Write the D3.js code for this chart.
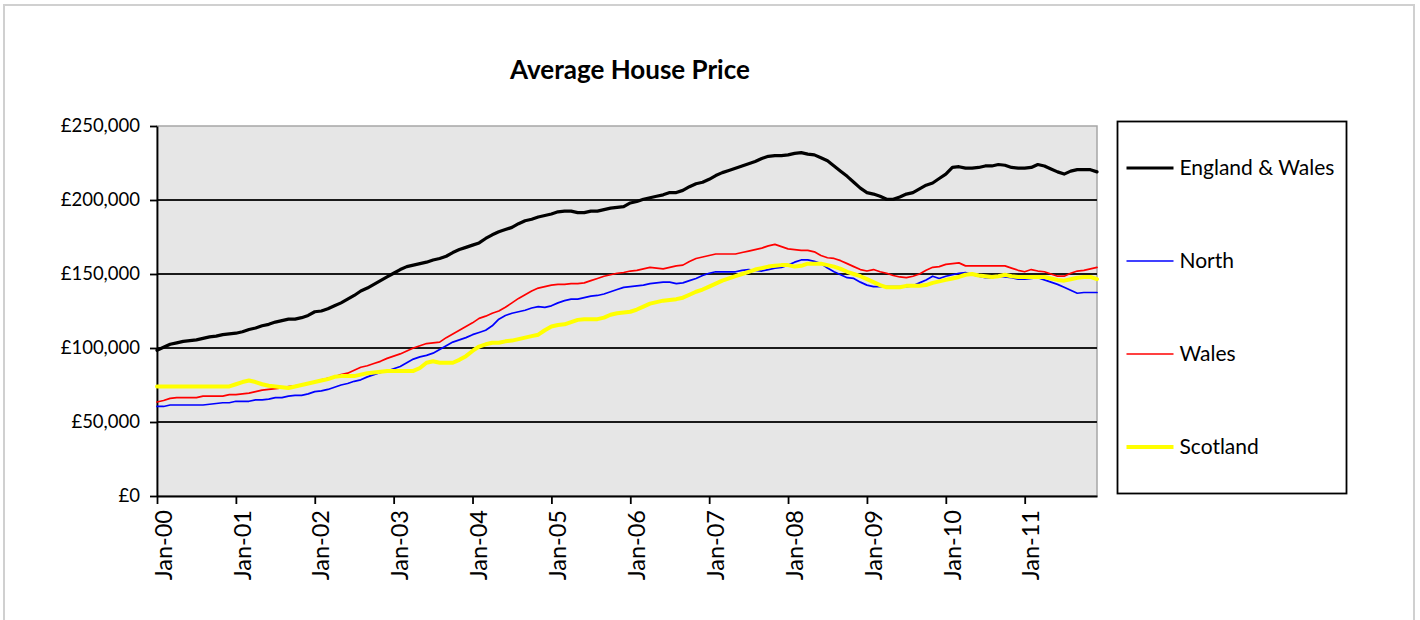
<!DOCTYPE html>
<html>
<head>
<meta charset="utf-8">
<script src="https://cdnjs.cloudflare.com/ajax/libs/d3/7.8.5/d3.min.js"></script>
<style>
  body { margin: 0; background: #fff; }
  text { font-family: Lato, "Open Sans", sans-serif; fill: #000; }
  .title { font-size: 26px; font-weight: bold; }
  .axis path, .axis line { stroke: #000; stroke-width: 1.8; }
  .axis--y text { font-size: 18.5px; }
  .axis--x text { font-size: 23.5px; }
  .legend text { font-size: 21px; }
  .series { fill: none; stroke-linejoin: round; stroke-linecap: round; }
</style>
</head>
<body>
<div id="chart"></div>
<script>

/* tick labels for the date axis, one per January */
var tickLabels = ["Jan-00", "Jan-01", "Jan-02", "Jan-03", "Jan-04", "Jan-05",
                  "Jan-06", "Jan-07", "Jan-08", "Jan-09", "Jan-10", "Jan-11"];

var yTicks = [0, 50, 100, 150, 200, 250];

/* monthly averages in £000s, Jan-00 .. Dec-11 */
var englandWales = [
  98.5, 100.5, 102.5, 103.5, 104.5, 105, 105.5, 106.5, 107.5, 108, 109, 109.5,
  110, 111, 112.5, 113.5, 115, 116, 117.5, 118.5, 119.5, 119.5, 120.5, 122,
  124.5, 125, 126.5, 128.5, 130.5, 133, 135.5, 138.5, 140.5, 143, 145.5, 148,
  150.5, 153, 155, 156, 157, 158, 159.5, 160.5, 162, 164.5, 166.5, 168,
  169.5, 171, 174, 176.5, 178.5, 180, 181.5, 184, 186, 187, 188.5, 189.5,
  190.5, 192, 192.5, 192.5, 191.5, 191.5, 192.5, 192.5, 193.5, 194.5, 195, 195.5,
  198, 199, 200.5, 201.5, 202.5, 203.5, 205, 205, 206.5, 209, 211, 212,
  214, 216.5, 218.5, 220, 221.5, 223, 224.5, 226, 228, 229.5, 230, 230,
  230.5, 231.5, 232, 231, 230.5, 228.5, 226.5, 223, 219.5, 216, 212, 208,
  205, 204, 202.5, 200.5, 200.5, 202, 204, 205, 207.5, 210, 211.5, 214.5,
  217.5, 222, 222.5, 221.5, 221.5, 222, 223, 223, 224, 223.5, 222, 221.5,
  221.5, 222, 224, 223, 221, 219, 217.5, 219.5, 220.5, 220.5, 220.5, 219
];

var north = [
  60.5, 60.5, 61.5, 61.5, 61.5, 61.5, 61.5, 61.5, 62, 62.5, 63, 63,
  64, 64, 64, 65, 65, 65.5, 66.5, 66.5, 67.5, 68, 68, 69,
  70.5, 71, 72, 73.5, 75, 76, 77.5, 78.5, 80.5, 82, 83.5, 84.5,
  86, 87.5, 90, 92.5, 94, 95, 96.5, 99, 101.5, 104, 105.5, 107,
  109, 110.5, 112, 115, 119.5, 122, 123.5, 124.5, 125.5, 127, 128, 127.5,
  128.5, 130.5, 132, 133, 133, 134, 135, 135.5, 136.5, 138, 139.5, 141,
  141.5, 142, 142.5, 143.5, 144, 144.5, 144.5, 143.5, 144, 145.5, 147, 149,
  150.5, 151.5, 151.5, 151.5, 151.5, 152.5, 153, 152.5, 152, 153, 154, 154.5,
  156, 158, 159.5, 159.5, 158.5, 157, 154, 151.5, 149.5, 147.5, 147, 144.5,
  142.5, 141.5, 141.5, 141.5, 141.5, 141.5, 141.5, 142, 144, 146, 148.5, 147,
  148.5, 149.5, 150.5, 151, 149.5, 148.5, 147.5, 147.5, 148.5, 148, 147.5, 146.5,
  146.5, 147, 147.5, 146, 144.5, 143, 141, 139, 137, 137.5, 137.5, 137.5
];

var wales = [
  63.5, 64.5, 66, 66.5, 66.5, 66.5, 66.5, 67.5, 67.5, 67.5, 67.5, 68.5,
  68.5, 69, 69.5, 70.5, 71.5, 72, 72.5, 73, 74, 74.5, 75, 76,
  77, 78.5, 79.5, 80.5, 82, 83, 85, 87, 88, 89.5, 91, 93,
  94.5, 96, 98, 100, 101.5, 103, 103.5, 104, 107, 109.5, 112, 114.5,
  117, 120, 121.5, 123.5, 125, 127.5, 130.5, 133.5, 136, 138.5, 140.5, 141.5,
  142.5, 143, 143, 143.5, 143.5, 144, 145.5, 147, 148.5, 149.5, 150.5, 151,
  152, 152.5, 153.5, 154.5, 154, 153.5, 154.5, 155.5, 156, 158.5, 160.5, 161.5,
  162.5, 163.5, 163.5, 163.5, 163.5, 164.5, 165.5, 166.5, 167.5, 169, 170, 168.5,
  167, 166.5, 166, 166, 165, 162.5, 161, 160.5, 159, 157, 155, 153,
  152, 153, 151.5, 150.5, 149, 148, 147.5, 148.5, 150, 152.5, 154.5, 155,
  156.5, 157, 157.5, 155.5, 155.5, 155.5, 155.5, 155.5, 155.5, 155.5, 154, 152.5,
  151.5, 153, 152, 151.5, 150, 148.5, 148.5, 150.5, 152, 152.5, 153.5, 154.5
];

var scotland = [
  74, 74, 74, 74, 74, 74, 74, 74, 74, 74, 74, 74,
  75.5, 77, 78, 77, 75.5, 74.5, 74, 73.5, 73, 74, 75, 76,
  77, 78, 79, 80.5, 81, 81, 81, 82, 83, 83.5, 84, 84.5,
  84.5, 84.5, 84.5, 84.5, 86.5, 90, 91, 90, 90, 90, 92, 94.5,
  98, 101, 102.5, 103.5, 103.5, 104.5, 105, 106, 107, 108, 109, 112,
  114.5, 115.5, 116, 117.5, 119, 119.5, 119.5, 119.5, 120.5, 122.5, 123.5, 124,
  124.5, 126, 128, 130, 131, 132, 132.5, 133, 134, 136, 138, 139.5,
  141.5, 143.5, 145.5, 147, 148.5, 150, 151.5, 153, 154, 155, 155.5, 156,
  156, 155, 155.5, 157, 157, 157, 156, 155, 153.5, 151.5, 150, 148.5,
  146.5, 144.5, 142.5, 141, 141, 141, 142, 142, 142, 142.5, 144, 145,
  146, 147, 148, 149.5, 150, 149, 148.5, 148, 148.5, 149.5, 148.5, 148,
  148, 148, 148, 148, 147, 146, 145.5, 146.5, 147.5, 148, 148, 146.5
];

var seriesNames = ["England & Wales", "North", "Wales", "Scotland"];
var seriesColors = ["#000000", "#0000ff", "#ff0000", "#ffff00"];
var seriesWidths = [3.2, 1.7, 1.7, 4];

var series = [englandWales, north, wales, scotland].map(function(values, i) {
  return {name: seriesNames[i], values: values, color: seriesColors[i], width: seriesWidths[i]};
});

var margin = {left: 157, top: 126},
    width = 940,
    height = 370;

var svg = d3.select("#chart").append("svg")
    .attr("width", 1420)
    .attr("height", 620);

/* chart area frame */
svg.append("rect")
    .attr("x", 4)
    .attr("y", 5)
    .attr("width", 1410)
    .attr("height", 640)
    .attr("fill", "#fff")
    .attr("stroke", "#d0d0d0")
    .attr("stroke-width", 2);

svg.append("text")
    .attr("class", "title")
    .attr("x", 630)
    .attr("y", 79)
    .attr("text-anchor", "middle")
    .text("Average House Price");

var g = svg.append("g")
    .attr("transform", "translate(" + margin.left + "," + margin.top + ")");

var x = d3.scaleLinear().domain([0, englandWales.length - 1]).range([0, width]),
    y = d3.scaleLinear().domain([0, 250]).range([height, 0]);

g.append("rect")
    .attr("width", width)
    .attr("height", height)
    .attr("fill", "#e6e6e6")
    .attr("stroke", "#a6a6a6")
    .attr("stroke-width", 1.5);

/* horizontal gridlines */
g.append("g")
    .attr("class", "grid")
  .selectAll("line")
  .data(yTicks.slice(1, -1))
  .enter().append("line")
    .attr("x1", 0)
    .attr("x2", width)
    .attr("y1", function(d) { return y(d); })
    .attr("y2", function(d) { return y(d); })
    .attr("stroke", "#1a1a1a")
    .attr("stroke-width", 1.8);

var yAxis = d3.axisLeft(y)
    .tickValues(yTicks)
    .tickSize(7)
    .tickSizeOuter(0)
    .tickPadding(10)
    .tickFormat(function(d) { return "£" + d3.format(",")(d * 1000); });

var xAxis = d3.axisBottom(x)
    .tickValues(tickLabels.map(function(t, i) { return i * 12; }))
    .tickSize(8)
    .tickSizeOuter(0)
    .tickFormat(function(d, i) { return tickLabels[i]; });

var gY = g.append("g")
    .attr("class", "axis axis--y")
    .call(yAxis);
gY.selectAll("text").attr("font-family", null).attr("font-size", null);

var gX = g.append("g")
    .attr("class", "axis axis--x")
    .attr("transform", "translate(0," + height + ")")
    .call(xAxis);
gX.selectAll("text")
    .attr("font-family", null)
    .attr("font-size", null)
    .attr("transform", "rotate(-90)")
    .attr("x", -14)
    .attr("y", 6)
    .attr("dy", "0.35em")
    .style("text-anchor", "end");

var line = d3.line()
    .x(function(d, i) { return x(i); })
    .y(function(d) { return y(d); });

g.selectAll(".series")
  .data(series)
  .enter().append("path")
    .attr("class", "series")
    .attr("d", function(d) { return line(d.values); })
    .attr("stroke", function(d) { return d.color; })
    .attr("stroke-width", function(d) { return d.width; });

/* legend */
var legendBox = {x: 1117.5, y: 121.5, w: 229, h: 372};
var legend = svg.append("g").attr("class", "legend");

legend.append("rect")
    .attr("x", legendBox.x)
    .attr("y", legendBox.y)
    .attr("width", legendBox.w)
    .attr("height", legendBox.h)
    .attr("fill", "#fff")
    .attr("stroke", "#000")
    .attr("stroke-width", 1.8);

var slot = legendBox.h / series.length;
var item = legend.selectAll(".item")
  .data(series)
  .enter().append("g")
    .attr("class", "item")
    .attr("transform", function(d, i) {
      return "translate(" + legendBox.x + "," + (legendBox.y + slot * (i + 0.5)) + ")";
    });

item.append("line")
    .attr("x1", 9)
    .attr("x2", 56)
    .attr("stroke", function(d) { return d.color; })
    .attr("stroke-width", function(d) { return d.width; });

item.append("text")
    .attr("x", 62)
    .attr("dy", "0.35em")
    .text(function(d) { return d.name; });

</script>
</body>
</html>
